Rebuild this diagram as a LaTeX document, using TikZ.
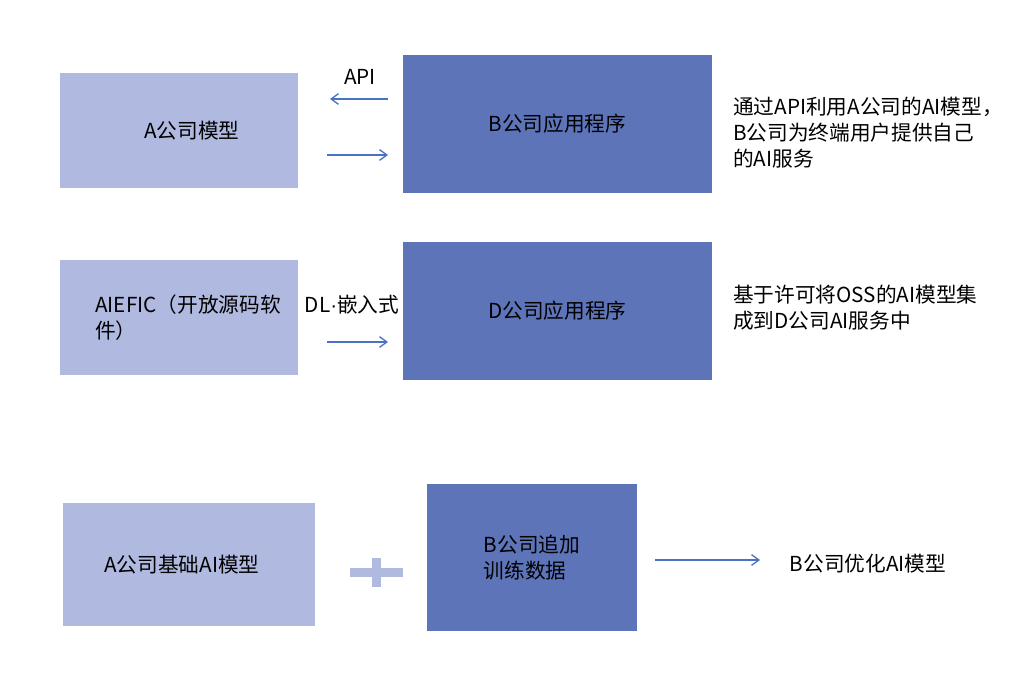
\documentclass[tikz,border=0pt]{standalone}
\usepackage{fontspec}
\setmainfont{Noto Sans CJK SC}
\newfontfamily\latinfont{Liberation Sans}
\usepackage{xcolor}
\definecolor{lightblue}{HTML}{B0B9DF}
\definecolor{darkblue}{HTML}{5D74B9}
\definecolor{linkblue}{HTML}{4A72C4}
\usepackage{tikz}
\usetikzlibrary{arrows.meta,positioning}

\begin{document}
\begin{tikzpicture}[x=0.75pt, y=-0.75pt,
  lightbox/.style={rectangle, fill=lightblue, inner sep=0pt},
  darkbox/.style={rectangle, fill=darkblue, inner sep=0pt},
  boxtext/.style={font=\fontsize{15.5}{20}\selectfont, align=left, inner sep=0pt},
  note/.style={font=\fontsize{15.5}{19.5}\selectfont, align=left, inner sep=0pt},
  arrow/.style={-{Straight Barb[length=5.5pt, width=8pt]}, color=linkblue, line width=1pt}
]
\useasboundingbox (0,0) rectangle (1010,696);

% Row 1: API
\node[lightbox, minimum width=178.5pt, minimum height=86.25pt] (amodel) at (179,130.5) {};
\node[boxtext] (amodel-t) at (192,130.5) {A公司模型};
\node[darkbox, minimum width=231.75pt, minimum height=103.5pt] (bapp) at (557.5,124) {};
\node[boxtext] (bapp-t) at (bapp) {B公司应用程序};
\node[boxtext] (api) at (360,77) {API};
\coordinate (api-in) at (388,99);
\coordinate (api-out) at (330,99);
\coordinate (req-in) at (327,155);
\coordinate (req-out) at (388,155);
\node[note, anchor=north west] (note1) at (733,97) {通过API利用A公司的AI模型，\\B公司为终端用户提供自己\\的AI服务};

% Row 2: OSS
\node[lightbox, minimum width=178.5pt, minimum height=86.25pt] (oss) at (179,317.5) {};
\node[boxtext, anchor=west] (oss-t) at (95,317.5) {AIEFIC（开放源码软\\件）};
\node[darkbox, minimum width=231.75pt, minimum height=103.5pt] (dapp) at (557.5,311) {};
\node[boxtext] (dapp-t) at (dapp) {D公司应用程序};
\node[boxtext] (dl) at (352,305) {DL{\latinfont\textperiodcentered}嵌入式};
\coordinate (dl-in) at (327,342);
\coordinate (dl-out) at (388,342);
\node[note, anchor=north west] (note2) at (733,285) {基于许可将OSS的AI模型集\\成到D公司AI服务中};

% Row 3: fine-tuning
\node[lightbox, minimum width=189pt, minimum height=92.25pt] (abase) at (189,564.5) {};
\node[boxtext] (abase-t) at (182,564.5) {A公司基础AI模型};
\node[darkbox, minimum width=157.5pt, minimum height=110.25pt] (bdata) at (532,557.5) {};
\node[boxtext] (bdata-t) at (bdata) {B公司追加\\训练数据};
\fill[lightblue] (350,568) rectangle (403,577);
\fill[lightblue] (372,558) rectangle (381,587);
\coordinate (tune-in) at (655,560);
\coordinate (tune-out) at (760,560);
\node[boxtext] (bopt) at (868,564) {B公司优化AI模型};

% Connections
\draw[arrow] (api-in) -- (api-out);
\draw[arrow] (req-in) -- (req-out);
\draw[arrow] (dl-in) -- (dl-out);
\draw[arrow] (tune-in) -- (tune-out);

\end{tikzpicture}
\end{document}
